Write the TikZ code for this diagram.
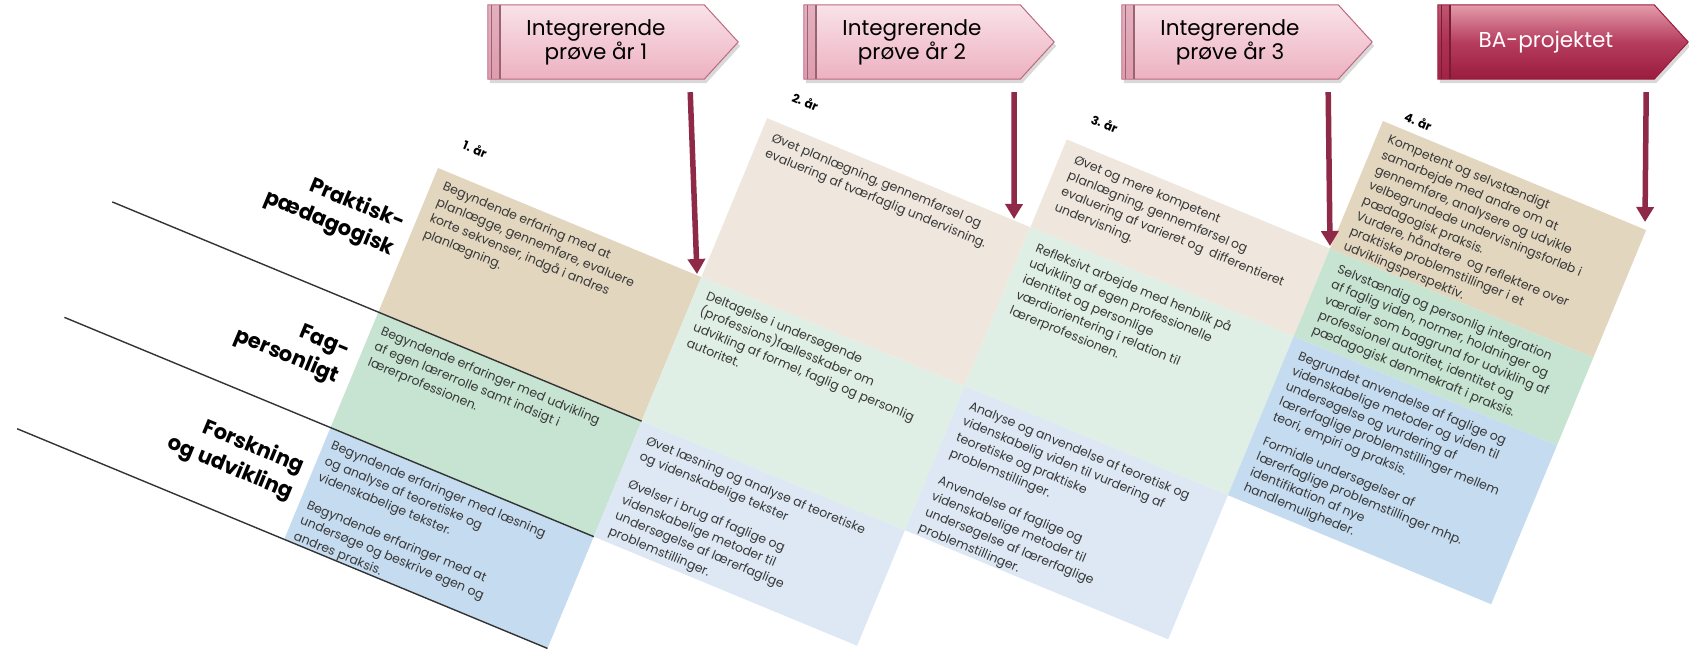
\documentclass[tikz,border=0pt]{standalone}
\usepackage{fontspec}
\setmainfont{Poppins}
\usetikzlibrary{arrows.meta,positioning,shadows}
\definecolor{tanA}{HTML}{E3D6BF}
\definecolor{greenA}{HTML}{C6E4D1}
\definecolor{blueA}{HTML}{C5DBEF}
\definecolor{tanB}{HTML}{EFE7DD}
\definecolor{greenB}{HTML}{DFEFE5}
\definecolor{blueB}{HTML}{DDE8F4}
\definecolor{wine}{HTML}{8E2A48}
\definecolor{roseLine}{HTML}{BC6A82}
\definecolor{roseTop}{HTML}{F9E2E8}
\definecolor{roseBot}{HTML}{EDB1C1}
\definecolor{roseStrip}{HTML}{D68FA3}
\definecolor{baTop}{HTML}{E49CAA}
\definecolor{baMid}{HTML}{B63D5E}
\definecolor{baBot}{HTML}{9A1B3E}
\definecolor{baStrip}{HTML}{A8284A}
\definecolor{txtgray}{HTML}{383838}
\pgfdeclarelayer{bg}
\pgfsetlayers{bg,main}
\tikzset{font=\fontsize{12.5}{17}\selectfont}
\tikzset{cell/.style={anchor=north west, inner sep=0pt, align=left, text=txtgray}}
\tikzset{tight/.style={font=\fontsize{12.5}{16.5}\selectfont}}
\tikzset{rowhead/.style={anchor=east, inner sep=0pt, align=right,
    font=\fontsize{21}{28}\selectfont\bfseries}}
\tikzset{yearlab/.style={inner sep=0pt, font=\fontsize{12}{14}\selectfont\bfseries}}
\tikzset{body/.style={minimum width=216pt, minimum height=74pt, inner sep=0pt,
    align=center, font=\fontsize{21.5}{24}\selectfont}}
\tikzset{lightplate/.style={draw=roseLine, line width=1pt, top color=roseTop,
    bottom color=roseBot, drop shadow={opacity=.3, shadow xshift=2pt, shadow yshift=-4pt}}}
\tikzset{darkplate/.style={draw=baBot, line width=1pt, top color=baTop,
    bottom color=baBot, middle color=baMid,
    drop shadow={opacity=.3, shadow xshift=2pt, shadow yshift=-4pt}}}
\tikzset{arr/.style={-{Triangle[width=17pt,length=15pt]}, line width=5.5pt, draw=wine}}
\tikzset{rowline/.style={line width=1.4pt, draw=black!80}}
% pentagon behind a box node: #1 node, #2 style, #3 strip colour
\newcommand{\plate}[3]{%
  \begin{pgfonlayer}{bg}
    \path[#2] (#1.north west) -- (#1.north east) -- ([xshift=34pt]#1.east)
      -- (#1.south east) -- (#1.south west) -- cycle;
    \fill[#3, opacity=.6] (#1.north west) rectangle ([xshift=12pt]#1.south west);
    \draw[#3!70!black, line width=.8pt] ([xshift=4pt]#1.north west) -- ([xshift=4pt]#1.south west);
    \draw[#3!70!black, line width=1.4pt] ([xshift=12pt]#1.north west) -- ([xshift=12pt]#1.south west);
  \end{pgfonlayer}}

\begin{document}
\begin{tikzpicture}[x=1pt,y=-1pt]
  \useasboundingbox (0,0) rectangle (1689,653);

  % exam boxes
  \node[body] (b1) at (596,42) {Integrerende\\prøve år 1};
  \node[body] (b2) at (912,42) {Integrerende\\prøve år 2};
  \node[body] (b3) at (1230,42) {Integrerende\\prøve år 3};
  \node[body, text=white] (b4) at (1546,42) {BA-projektet};
  \plate{b1}{lightplate}{roseStrip}
  \plate{b2}{lightplate}{roseStrip}
  \plate{b3}{lightplate}{roseStrip}
  \plate{b4}{darkplate}{baStrip}

  % the four years, one rotated frame
  \begin{scope}[shift={(438,168)}, rotate=-22.5, transform shape]
    \fill[tanA] (0,0) rectangle (285,156);
    \fill[greenA] (0,156) rectangle (285,281);
    \fill[blueA] (0,281) rectangle (285,402);
    \fill[tanB] (285,-172) rectangle (570,0);
    \fill[greenB] (285,0) rectangle (570,156);
    \fill[blueB] (285,156) rectangle (570,281);
    \fill[tanB] (570,-267) rectangle (855,-172);
    \fill[greenB] (570,-172) rectangle (855,0);
    \fill[blueB] (570,0) rectangle (855,156);
    \fill[tanA] (855,-405) rectangle (1140,-267);
    \fill[greenA] (855,-267) rectangle (1140,-172);
    \fill[blueA] (855,-172) rectangle (1140,0);

    \coordinate (s1) at (-288,156);
    \coordinate (e1) at (285,156);
    \coordinate (s2) at (-288,281);
    \coordinate (e2) at (285,281);
    \coordinate (s3) at (-289,402);
    \coordinate (e3) at (285,402);
    \draw[rowline] (s1) -- (e1);
    \draw[rowline] (s2) -- (e2);
    \draw[rowline] (s3) -- (e3);

    \node[rowhead] (h1) at (-10,79) {Praktisk-\\pædagogisk};
    \node[rowhead] (h2) at (-12,219) {Fag-\\personligt};
    \node[rowhead] (h3) at (-10,343) {Forskning\\og udvikling};

    \node[yearlab] (y1) at (27,-32) {1. år};
    \node[yearlab] (y2) at (314,-202) {2. år};
    \node[yearlab] (y3) at (599,-296) {3. år};
    \node[yearlab] (y4) at (888,-418) {4. år};

    \node[cell] (pp1) at (12,9) {Begyndende erfaring med at\\planlægge, gennemføre, evaluere\\korte sekvenser, indgå i andres\\planlægning.};
    \node[cell] (fp1) at (10,166) {Begyndende erfaringer med udvikling\\af egen lærerrolle samt indsigt i\\lærerprofessionen.};
    \node[cell] (fu1) at (8,291) {Begyndende erfaringer med læsning\\og analyse af teoretiske og\\videnskabelige tekster.\\[13pt]Begyndende erfaringer med at\\undersøge og beskrive egen og\\andres praksis.};

    \node[cell] (pp2) at (297,-162) {Øvet planlægning, gennemførsel og\\evaluering af tværfaglig undervisning.};
    \node[cell] (fp2) at (297,9) {Deltagelse i undersøgende\\(professions)fællesskaber om\\udvikling af formel, faglig og personlig\\autoritet.};
    \node[cell] (fu2) at (297,166) {Øvet læsning og analyse af teoretiske\\og videnskabelige tekster\\[13pt]Øvelser i brug af faglige og\\videnskabelige metoder til\\undersøgelse af lærerfaglige\\problemstillinger.};

    \node[cell] (pp3) at (585,-257) {Øvet og mere kompetent\\planlægning, gennemførsel og\\evaluering af varieret og\ \ differentieret\\undervisning.};
    \node[cell] (fp3) at (583,-162) {Refleksivt arbejde med henblik på\\udvikling af egen professionelle\\identitet og personlige\\værdiorientering i relation til\\lærerprofessionen.};
    \node[cell] (fu3) at (582,10) {Analyse og anvendelse af teoretisk og\\videnskabelig viden til vurdering af\\teoretiske og praktiske\\problemstillinger.\\[13pt]Anvendelse af faglige og\\videnskabelige metoder til\\undersøgelse af lærerfaglige\\problemstillinger.};

    \node[cell, tight] (pp4) at (867,-396) {Kompetent og selvstændigt\\samarbejde med andre om at\\gennemføre, analysere og udvikle\\velbegrundede undervisningsforløb i\\pædagogisk praksis.\\Vurdere, håndtere\ \ og reflektere over\\praktiske problemstillinger i et\\udviklingsperspektiv.};
    \node[cell, tight] (fp4) at (870,-257) {Selvstændig og personlig integration\\af faglig viden, normer, holdninger og\\værdier som baggrund for udvikling af\\professionel autoritet, identitet og\\pædagogisk dømmekraft i praksis.};
    \node[cell, tight] (fu4) at (867,-162) {Begrundet anvendelse af faglige og\\videnskabelige metoder og viden til\\undersøgelse og vurdering af\\lærerfaglige problemstillinger mellem\\teori, empiri og praksis.\\[10pt]Formidle undersøgelser af\\lærerfaglige problemstillinger mhp.\\identifikation af nye\\handlemuligheder.};
  \end{scope}

  % arrows down to the year boundaries
  \coordinate (tip1) at (697,274);
  \coordinate (tip2) at (1014,219);
  \coordinate (tip3) at (1330,246);
  \coordinate (tip4) at (1645,222);
  \draw[arr] ([xshift=-14pt,yshift=-13pt]b1.south east) -- (tip1);
  \draw[arr] ([xshift=-6pt,yshift=-13pt]b2.south east) -- (tip2);
  \draw[arr] ([xshift=-10pt,yshift=-13pt]b3.south east) -- (tip3);
  \draw[arr] ([xshift=-8pt,yshift=-13pt]b4.south east) -- (tip4);
\end{tikzpicture}
\end{document}
